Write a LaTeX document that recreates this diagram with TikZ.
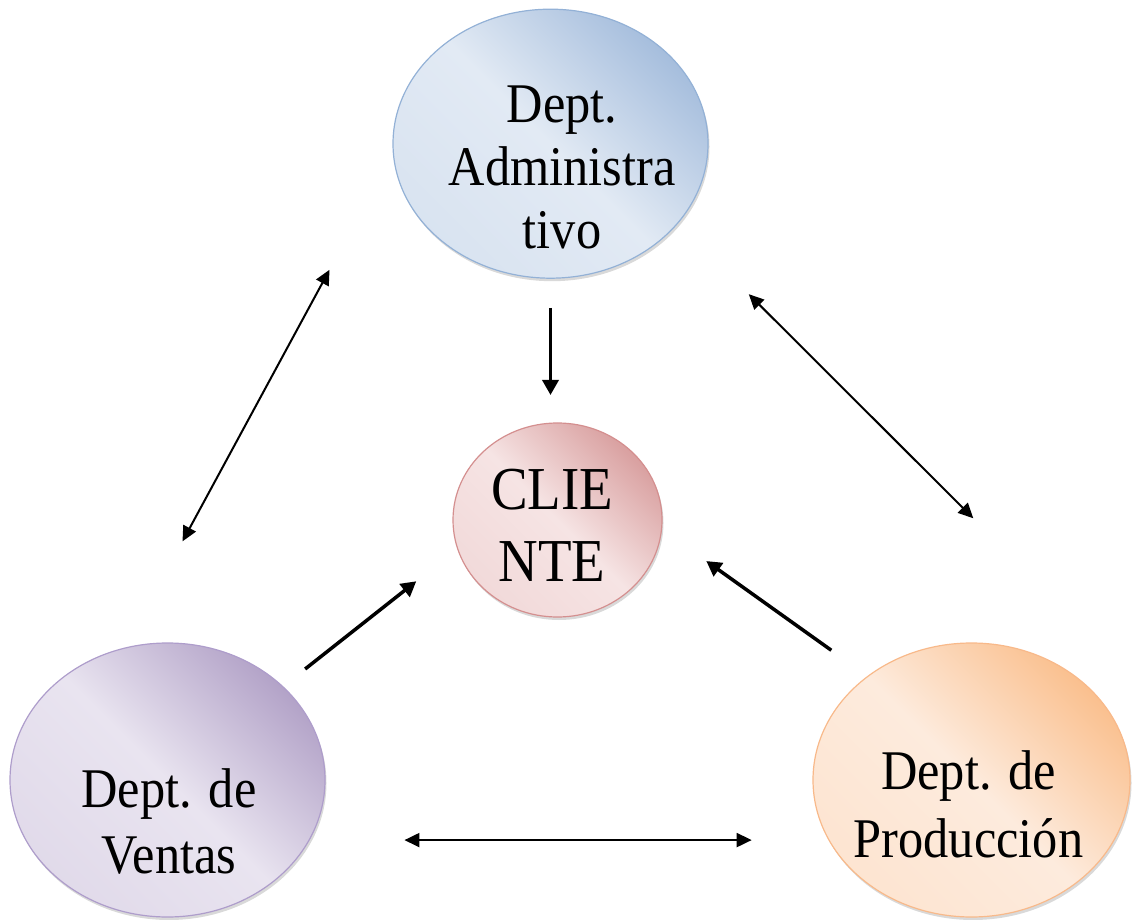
\documentclass[tikz,border=0pt]{standalone}
\usepackage{fontspec}
\setmainfont{Liberation Serif}
\newfontfamily\deptfont{Liberation Serif}[FakeStretch=0.9]
\usetikzlibrary{arrows.meta,shapes.geometric,shadows}

\definecolor{admdark}{HTML}{A6BEDD}
\definecolor{admlight}{HTML}{E2EAF4}
\definecolor{admline}{HTML}{93B1D6}
\definecolor{clidark}{HTML}{D9A0A0}
\definecolor{clilight}{HTML}{F6E4E4}
\definecolor{cliline}{HTML}{D48F8F}
\definecolor{vendark}{HTML}{B3A3C8}
\definecolor{venlight}{HTML}{E9E4F0}
\definecolor{venline}{HTML}{AE9DCB}
\definecolor{prodark}{HTML}{FAC08F}
\definecolor{prolight}{HTML}{FDEBDD}
\definecolor{proline}{HTML}{F8B98A}

\tikzset{
  dept/.style={ellipse, inner sep=0pt, outer sep=0pt, line width=1.2pt,
    drop shadow={shadow xshift=1.5pt, shadow yshift=-3pt, opacity=0.3}},
  admcol/.style={draw=admline, top color=admdark, bottom color=admlight!85!admdark,
    middle color=admlight, shading angle=-45},
  clicol/.style={draw=cliline, top color=clidark, bottom color=clilight!85!clidark,
    middle color=clilight, shading angle=-45},
  vencol/.style={draw=venline, top color=vendark, bottom color=venlight!85!vendark,
    middle color=venlight, shading angle=-45},
  procol/.style={draw=proline, top color=prodark, bottom color=prolight!85!prodark,
    middle color=prolight, shading angle=-45},
  lbl/.style 2 args={align=center, inner sep=0pt, font=\deptfont\fontsize{#1}{#2}\selectfont},
  flow/.style={-{Triangle[length=15pt,width=16pt]}, line width=3.5pt},
  link/.style={{Triangle[length=15pt,width=14pt]}-{Triangle[length=15pt,width=14pt]}, line width=2pt}
}

\begin{document}
\begin{tikzpicture}[x=1pt, y=1pt]
 \useasboundingbox (0,0) rectangle (1134,919);
 % departamentos
 \node[dept, admcol, minimum width=315, minimum height=269] (adm) at (550.5,775.3) {};
 \node[dept, clicol, minimum width=209, minimum height=194] (cli) at (557.5,399) {};
 \node[dept, vencol, minimum width=315, minimum height=274] (ven) at (167.5,139) {};
 \node[dept, procol, minimum width=317, minimum height=274] (pro) at (971.5,139) {};
 \node[lbl={56}{63}] (adm-t) at (562,752) {Dept.\\Administra\\tivo};
 \node[lbl={61}{72}] (cli-t) at (552,393.5) {CLIE\\NTE};
 \node[lbl={56}{66}] (ven-t) at (169,98) {Dept. de\\Ventas};
 \node[lbl={56}{68}] (pro-t) at (968.5,115) {Dept. de\\Producción};
 \coordinate (pro-tip) at ([shift={(1.8,124.7)}]pro.north);
 % hacia el cliente
 \draw[flow, shorten <=29.8pt, shorten >=28pt] (adm.south) -- (adm.south |- cli.north);
 \draw[flow, shorten <=28.5pt, shorten >=52.7pt] (ven.39.7) -- (cli.196);
 \draw[flow, shorten <=44.9pt, shorten >=55pt] (pro.135.8) -- (cli.355.9);
 % entre departamentos
 \draw[link, shorten <=134pt, shorten >=121.5pt] (adm.183.4) -- (ven.108.45);
 \draw[link, shorten <=100.6pt] (adm.328.94) -- (pro-tip);
 \draw[link, shorten <=95.4pt, shorten >=61.3pt] (ven.337.45) -- (ven.337.45 -| pro.west);
\end{tikzpicture}
\end{document}
